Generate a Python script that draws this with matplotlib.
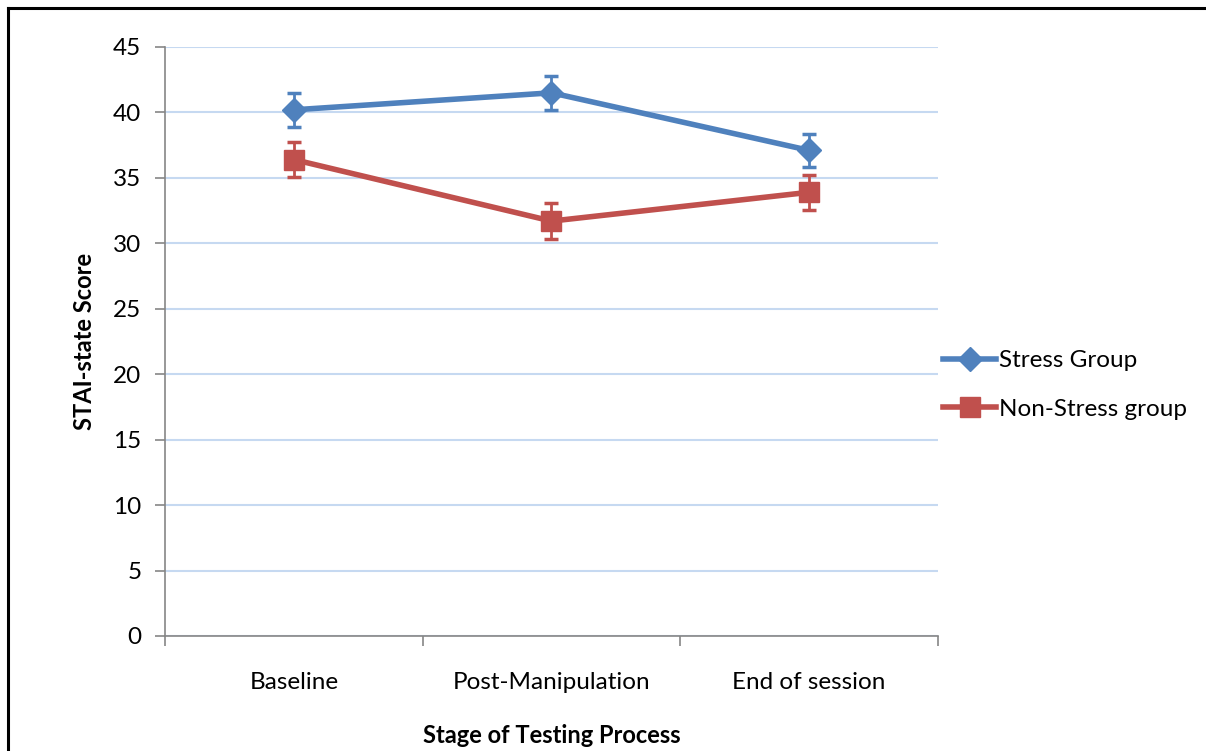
import matplotlib
matplotlib.use("Agg")
import matplotlib.pyplot as plt
from matplotlib.lines import Line2D

stages = ["Baseline", "Post-Manipulation", "End of session"]
stress_mean = [40.2, 41.5, 37.1]
stress_err = [1.3, 1.3, 1.25]
nonstress_mean = [36.4, 31.7, 33.9]
nonstress_err = [1.35, 1.35, 1.35]
y_ticks = [0, 5, 10, 15, 20, 25, 30, 35, 40, 45]

BLUE = "#4f81bd"
RED = "#c0504d"
GRID = "#c6d9f1"
AXIS = "#868686"
FS = 17.5

plt.rcParams["font.family"] = ["Lato", "DejaVu Sans"]

fig = plt.figure(figsize=(12.06, 7.51), dpi=100)
ax = fig.add_axes([165 / 1206, 115 / 751, 773 / 1206, 589 / 751])

x = list(range(len(stages)))
ax.errorbar(x, stress_mean, yerr=stress_err, color=BLUE, lw=4,
            marker="D", ms=12, capsize=5, capthick=2.5, elinewidth=2,
            label="Stress Group", zorder=3)
ax.errorbar(x, nonstress_mean, yerr=nonstress_err, color=RED, lw=4,
            marker="s", ms=14, capsize=5, capthick=2.5, elinewidth=2,
            label="Non-Stress group", zorder=3)

ax.set_xlim(-0.5, len(stages) - 0.5)
ax.set_ylim(0, 45)
ax.set_yticks(y_ticks)
ax.set_xticks([i - 0.5 for i in range(len(stages) + 1)])
ax.set_xticklabels([])
ax.set_xticks(x, minor=True)
ax.set_xticklabels(stages, minor=True)
ax.tick_params(axis="x", which="major", length=7, color=AXIS, width=1.2)
ax.tick_params(axis="x", which="minor", length=0, pad=26, labelsize=FS)
ax.tick_params(axis="y", length=7, color=AXIS, width=1.2, pad=10, labelsize=FS)

ax.grid(axis="y", color=GRID, lw=1.5, zorder=0)
ax.set_axisbelow(True)
for side in ["top", "right"]:
    ax.spines[side].set_visible(False)
for side in ["left", "bottom"]:
    ax.spines[side].set_color(AXIS)
    ax.spines[side].set_linewidth(1.2)

ax.set_ylabel("STAI-state Score", fontsize=17, fontweight="bold", labelpad=12)
ax.set_xlabel("Stage of Testing Process", fontsize=17, fontweight="bold", labelpad=22)

handles = [
    Line2D([], [], color=BLUE, lw=4, marker="D", ms=12),
    Line2D([], [], color=RED, lw=4, marker="s", ms=14),
]
fig.legend(handles, ["Stress Group", "Non-Stress group"], loc="center left",
           bbox_to_anchor=(921 / 1206, 1 - 385 / 751), frameon=False,
           fontsize=FS, handlelength=2.2, handletextpad=0.1, labelspacing=1.15)

# outer frame (top and left edges visible in the original crop)
fig.add_artist(Line2D([8 / 1206, 1], [1 - 8 / 751, 1 - 8 / 751], color="black", lw=2.2))
fig.add_artist(Line2D([8 / 1206, 8 / 1206], [0, 1 - 8 / 751], color="black", lw=2.2))

fig.savefig("out.png", dpi=100)
